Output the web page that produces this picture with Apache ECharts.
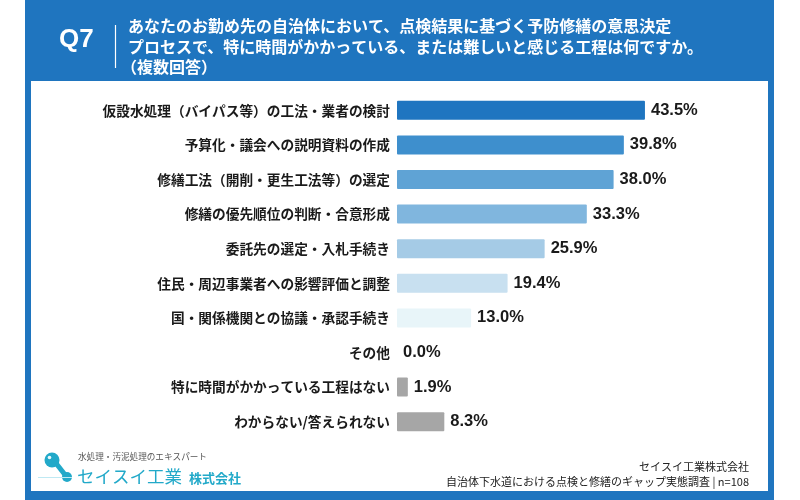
<!DOCTYPE html>
<html>
<head>
<meta charset="utf-8">
<script src="https://cdn.jsdelivr.net/npm/echarts@6/dist/echarts.min.js"></script>
<style>
  html, body { margin: 0; padding: 0; background: #fff; }
  #chart { width: 800px; height: 500px; }
</style>
</head>
<body>
<div id="chart"></div>
<script>
// 回答項目
const categories = [
  '仮設水処理（バイパス等）の工法・業者の検討',
  '予算化・議会への説明資料の作成',
  '修繕工法（開削・更生工法等）の選定',
  '修繕の優先順位の判断・合意形成',
  '委託先の選定・入札手続き',
  '住民・周辺事業者への影響評価と調整',
  '国・関係機関との協議・承認手続き',
  'その他',
  '特に時間がかかっている工程はない',
  'わからない/答えられない'
];
// 割合(%)
const values = [43.5, 39.8, 38.0, 33.3, 25.9, 19.4, 13.0, 0.0, 1.9, 8.3];

const titleLines = [
  'あなたのお勤め先の自治体において、点検結果に基づく予防修繕の意思決定',
  'プロセスで、特に時間がかかっている、または難しいと感じる工程は何ですか。',
  '（複数回答）'
];
const footerLines = [
  'セイスイ工業株式会社',
  '自治体下水道における点検と修繕のギャップ実態調査 | n=108'
];

const palette = ['#1f75c0', '#3e8fcd', '#5fa3d5', '#80b6de', '#a5cbe6',
                 '#c8e0f0', '#e8f5f9', '#a6a6a6', '#a6a6a6', '#a6a6a6'];
const blue = '#1f75bf';
const teal = '#22a9c9';
const jp = '"Noto Sans CJK JP", sans-serif';
const latin = '"Liberation Sans", Arial, sans-serif';

const chart = echarts.init(document.getElementById('chart'));

const option = {
  backgroundColor: '#fff',
  animation: false,
  grid: { left: 397, right: 61, top: 93, bottom: 61, containLabel: false },
  xAxis: {
    type: 'value',
    min: 0,
    max: 60,
    show: false
  },
  yAxis: {
    type: 'category',
    inverse: true,
    data: categories,
    axisLine: { show: false },
    axisTick: { show: false },
    splitLine: { show: false },
    axisLabel: {
      margin: 7,
      color: '#1a1a1a',
      fontSize: 13.7,
      fontWeight: 'bold',
      fontFamily: jp
    }
  },
  series: [{
    type: 'bar',
    barWidth: 19,
    data: values.map((v, i) => ({
      value: v,
      itemStyle: { color: palette[i], borderRadius: 1 }
    })),
    label: {
      show: true,
      position: 'right',
      distance: 6,
      color: '#1a1a1a',
      fontSize: 16.5,
      fontWeight: 'bold',
      fontFamily: latin,
      formatter: p => p.value.toFixed(1) + '%'
    }
  }],
  graphic: [
    // 外枠
    { type: 'rect', shape: { x: 25, y: 0, width: 749, height: 500 }, style: { fill: blue }, z: -10 },
    { type: 'rect', shape: { x: 31, y: 81, width: 737, height: 410 }, style: { fill: '#fff' }, z: -9 },
    // ヘッダー
    { type: 'text', x: 59, y: 40, style: { text: 'Q7', fill: '#fff', font: 'bold 26px ' + latin, textVerticalAlign: 'middle' } },
    { type: 'line', shape: { x1: 115.5, y1: 25, x2: 115.5, y2: 68 }, style: { stroke: '#fff', lineWidth: 1.2 } },
    { type: 'text', x: 128, y: 26, style: { text: titleLines[0], fill: '#fff', font: 'bold 16px ' + jp, textVerticalAlign: 'middle' } },
    { type: 'text', x: 128, y: 47, style: { text: titleLines[1], fill: '#fff', font: 'bold 16px ' + jp, textVerticalAlign: 'middle' } },
    { type: 'text', x: 121, y: 67, style: { text: titleLines[2], fill: '#fff', font: 'bold 16px ' + jp, textVerticalAlign: 'middle' } },
    // ロゴ
    { type: 'line', shape: { x1: 55, y1: 462, x2: 66, y2: 476 }, style: { stroke: teal, lineWidth: 5 } },
    { type: 'circle', shape: { cx: 52, cy: 460, r: 7.5 }, style: { fill: teal } },
    { type: 'circle', shape: { cx: 49.5, cy: 457.5, r: 1.8 }, style: { fill: '#e8f8fc' } },
    { type: 'circle', shape: { cx: 67, cy: 477, r: 5 }, style: { fill: teal } },
    { type: 'line', shape: { x1: 38, y1: 477.5, x2: 72, y2: 477.5 }, style: { stroke: '#bfe9f3', lineWidth: 1 } },
    { type: 'text', x: 78, y: 457, style: { text: '水処理・汚泥処理のエキスパート', fill: '#555', font: '8.6px ' + jp, textVerticalAlign: 'middle' } },
    { type: 'text', x: 77, y: 476, style: { text: 'セイスイ工業', fill: teal, font: '17.5px ' + jp, textVerticalAlign: 'middle' } },
    { type: 'text', x: 189, y: 478, style: { text: '株式会社', fill: teal, font: 'bold 13px ' + jp, textVerticalAlign: 'middle' } },
    // フッター
    { type: 'text', x: 749, y: 467, style: { text: footerLines[0], fill: '#222', font: '11px ' + jp, textAlign: 'right', textVerticalAlign: 'middle' } },
    { type: 'text', x: 749, y: 482, style: { text: footerLines[1], fill: '#222', font: '11px ' + jp, textAlign: 'right', textVerticalAlign: 'middle' } }
  ]
};

chart.setOption(option);
</script>
</body>
</html>
